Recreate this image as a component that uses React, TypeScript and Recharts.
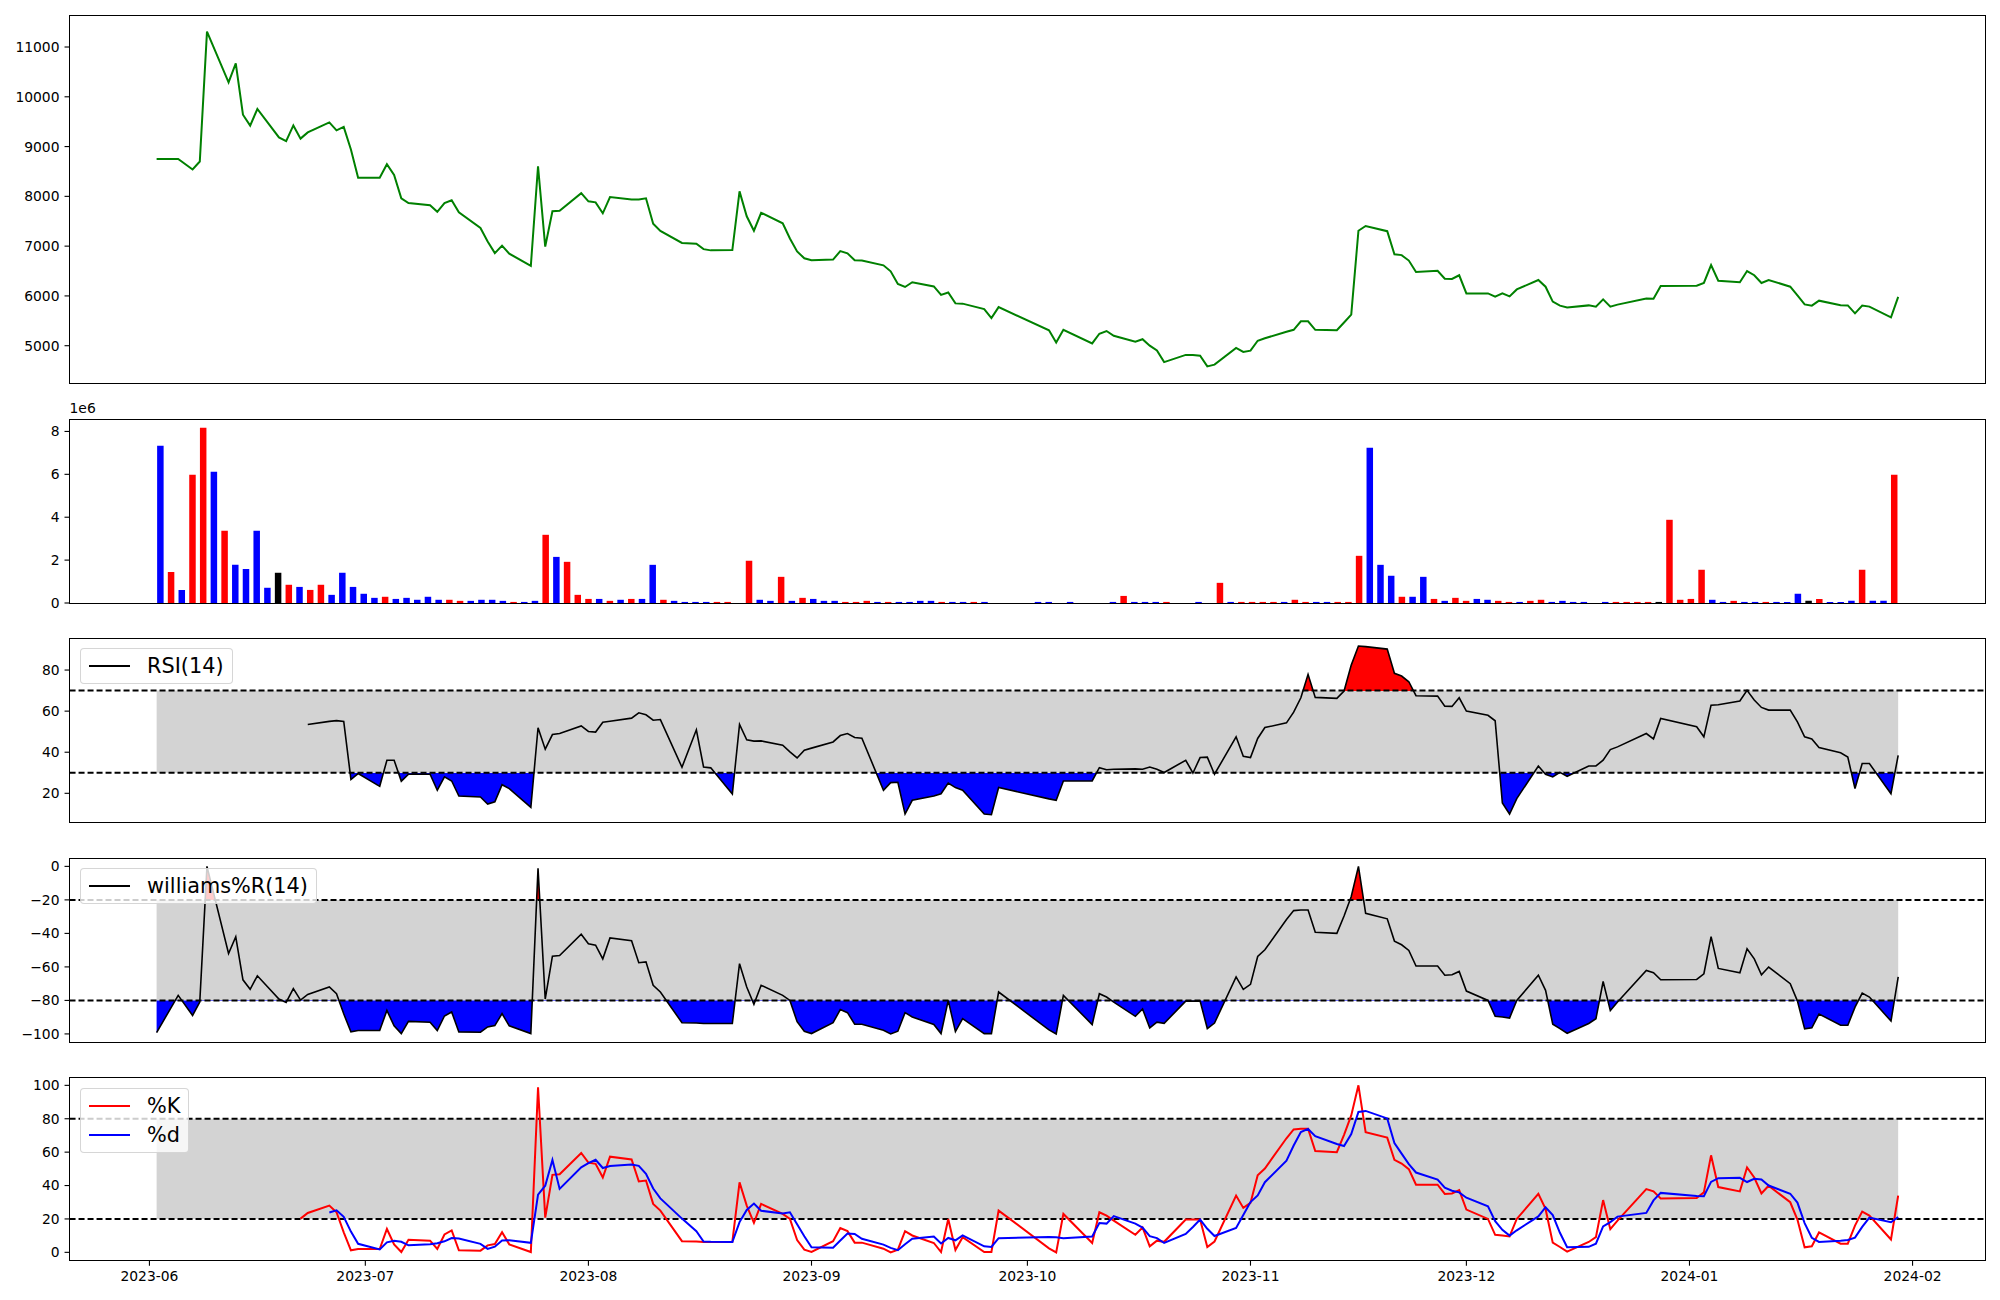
import {
    ComposedChart,
    Line,
    Area,
    Bar,
    Cell,
    XAxis,
    YAxis,
    ReferenceArea,
    ReferenceLine,
} from 'recharts';

// trading days (one bar / point each)
const dates = [
    '2023-06-02', '2023-06-05', '2023-06-07', '2023-06-08', '2023-06-09', '2023-06-12', '2023-06-13', '2023-06-14', '2023-06-15', '2023-06-16',
    '2023-06-19', '2023-06-20', '2023-06-21', '2023-06-22', '2023-06-23', '2023-06-26', '2023-06-27', '2023-06-28', '2023-06-29', '2023-06-30',
    '2023-07-03', '2023-07-04', '2023-07-05', '2023-07-06', '2023-07-07', '2023-07-10', '2023-07-11', '2023-07-12', '2023-07-13', '2023-07-14',
    '2023-07-17', '2023-07-18', '2023-07-19', '2023-07-20', '2023-07-21', '2023-07-24', '2023-07-25', '2023-07-26', '2023-07-27', '2023-07-28',
    '2023-07-31', '2023-08-01', '2023-08-02', '2023-08-03', '2023-08-04', '2023-08-07', '2023-08-08', '2023-08-09', '2023-08-10', '2023-08-11',
    '2023-08-14', '2023-08-16', '2023-08-17', '2023-08-18', '2023-08-21', '2023-08-22', '2023-08-23', '2023-08-24', '2023-08-25', '2023-08-28',
    '2023-08-29', '2023-08-30', '2023-08-31', '2023-09-01', '2023-09-04', '2023-09-05', '2023-09-06', '2023-09-07', '2023-09-08', '2023-09-11',
    '2023-09-12', '2023-09-13', '2023-09-14', '2023-09-15', '2023-09-18', '2023-09-19', '2023-09-20', '2023-09-21', '2023-09-22', '2023-09-25',
    '2023-09-26', '2023-09-27', '2023-10-04', '2023-10-05', '2023-10-06', '2023-10-10', '2023-10-11', '2023-10-12', '2023-10-13', '2023-10-16',
    '2023-10-17', '2023-10-18', '2023-10-19', '2023-10-20', '2023-10-23', '2023-10-24', '2023-10-25', '2023-10-26', '2023-10-27', '2023-10-30',
    '2023-10-31', '2023-11-01', '2023-11-02', '2023-11-03', '2023-11-06', '2023-11-07', '2023-11-08', '2023-11-09', '2023-11-10', '2023-11-13',
    '2023-11-14', '2023-11-15', '2023-11-16', '2023-11-17', '2023-11-20', '2023-11-21', '2023-11-22', '2023-11-23', '2023-11-24', '2023-11-27',
    '2023-11-28', '2023-11-29', '2023-11-30', '2023-12-01', '2023-12-04', '2023-12-05', '2023-12-06', '2023-12-07', '2023-12-08', '2023-12-11',
    '2023-12-12', '2023-12-13', '2023-12-14', '2023-12-15', '2023-12-18', '2023-12-19', '2023-12-20', '2023-12-21', '2023-12-22', '2023-12-26',
    '2023-12-27', '2023-12-28', '2024-01-02', '2024-01-03', '2024-01-04', '2024-01-05', '2024-01-08', '2024-01-09', '2024-01-10', '2024-01-11',
    '2024-01-12', '2024-01-15', '2024-01-16', '2024-01-17', '2024-01-18', '2024-01-19', '2024-01-22', '2024-01-23', '2024-01-24', '2024-01-25',
    '2024-01-26', '2024-01-29', '2024-01-30',
];

const close = [
    8750, 8750, 8540, 8700, 11310, 10290, 10670, 9640, 9420, 9755,
    9185, 9110, 9425, 9160, 9285, 9485, 9325, 9395, 8940, 8375,
    8375, 8645, 8430, 7960, 7865, 7820, 7690, 7865, 7920, 7680,
    7365, 7095, 6860, 7010, 6850, 6605, 8605, 6990, 7700, 7710,
    8065, 7900, 7880, 7660, 7985, 7935, 7935, 7960, 7450, 7305,
    7065, 7050, 6940, 6915, 6920, 8100, 7600, 7310, 7670, 7460,
    7155, 6895, 6755, 6715, 6730, 6900, 6855, 6715, 6710, 6615,
    6495, 6240, 6180, 6275, 6190, 6020, 6070, 5850, 5845, 5735,
    5555, 5775, 5310, 5065, 5320, 5045, 5240, 5295, 5200, 5080,
    5130, 5000, 4905, 4670, 4815, 4815, 4800, 4585, 4620, 4955,
    4875, 4900, 5100, 5150, 5280, 5320, 5490, 5490, 5320, 5310,
    5465, 5625, 7310, 7405, 7300, 6835, 6820, 6710, 6480, 6505,
    6345, 6340, 6415, 6050, 6050, 5985, 6050, 5990, 6130, 6320,
    6185, 5885, 5805, 5770, 5810, 5785, 5930, 5785, 5825, 5950,
    5945, 6200, 6205, 6260, 6620, 6305, 6275, 6500, 6415, 6260,
    6320, 6185, 6010, 5830, 5805, 5905, 5815, 5810, 5650, 5805,
    5785, 5570, 5980,
];

// volume in units of 1e6
const volume = [
    7.33, 1.45, 0.61, 5.98, 8.17, 6.12, 3.37, 1.78, 1.59, 3.37,
    0.71, 1.41, 0.85, 0.75, 0.61, 0.85, 0.38, 1.41, 0.75, 0.43,
    0.24, 0.29, 0.19, 0.24, 0.15, 0.29, 0.15, 0.15, 0.10, 0.10,
    0.15, 0.15, 0.10, 0.05, 0.05, 0.10, 3.18, 2.15, 1.92, 0.38,
    0.19, 0.19, 0.10, 0.15, 0.19, 0.19, 1.78, 0.15, 0.10, 0.05,
    0.05, 0.05, 0.05, 0.05, 0, 1.97, 0.15, 0.10, 1.22, 0.10,
    0.24, 0.19, 0.10, 0.10, 0.05, 0.05, 0.10, 0.05, 0.05, 0.05,
    0.05, 0.10, 0.10, 0.05, 0.05, 0.05, 0.05, 0.05, 0, 0,
    0, 0, 0.05, 0.05, 0, 0.05, 0, 0, 0, 0.05,
    0.33, 0.05, 0.05, 0.05, 0.05, 0, 0, 0.05, 0, 0.94,
    0.05, 0.05, 0.05, 0.05, 0.05, 0.05, 0.15, 0.05, 0.05, 0.05,
    0.05, 0.05, 2.2, 7.24, 1.78, 1.27, 0.29, 0.29, 1.22, 0.19,
    0.10, 0.24, 0.10, 0.19, 0.15, 0.10, 0.05, 0.05, 0.10, 0.15,
    0.05, 0.10, 0.05, 0.05, 0, 0.05, 0.05, 0.05, 0.05, 0.05,
    0.05, 3.88, 0.15, 0.19, 1.55, 0.15, 0.05, 0.10, 0.05, 0.05,
    0.05, 0.05, 0.05, 0.43, 0.10, 0.19, 0.05, 0.05, 0.10, 1.55,
    0.10, 0.10, 5.98,
];

// r = up day, b = down day, k = unchanged
const volColor = (
    'brbrrbrbbb' + 'bkrbrrbbbb' + 'brbbbbbrrb' + 'bbbrbbrbrr' +
    'rbrbrbbrbb' + 'bbrrkrbbrb' + 'rbbbrrrbrb' + 'bbbrbbrbkk' +
    'kkbbkbkkkb' + 'rbbbrkkbkr' + 'brrrrbrrbb' + 'rrrbbbrbbr' +
    'brrbbrrbrr' + 'bbbbkbrrrr' + 'krrrrbbrbb' + 'rbbbkrbbbr' + 'bbr'
).split('');

const rsi = [
    null, null, null, null, null, null, null, null, null, null,
    null, null, null, null, 53.5, 55.0, 55.4, 55.0, 26.7, 29.6,
    23.4, 36.1, 36.1, 25.9, 29.3, 29.3, 21.5, 28.0, 26.0, 18.7,
    18.2, 14.8, 15.9, 24.2, 22.3, 13.2, 51.9, 41.5, 48.6, 49.1,
    52.8, 50.1, 49.8, 54.6, 55.1, 56.6, 59.2, 58.2, 55.6, 55.9,
    32.7, 50.9, 32.8, 32.4, 19.7, 53.5, 46.0, 45.4, 45.5, 43.4,
    40.2, 37.2, 41.0, 42.0, 45.0, 48.1, 49.1, 47.2, 46.8, 21.5,
    25.2, 25.4, 9.9, 16.6, 18.7, 19.8, 25.0, 22.8, 21.5, 9.9,
    9.6, 22.8, 17.3, 16.6, 26.0, 26.0, 32.5, 31.5, 31.7, 31.9,
    31.7, 32.8, 31.7, 30.1, 36.1, 29.9, 37.4, 37.6, 29.3, 47.5,
    38.0, 37.4, 46.7, 52.0, 54.3, 59.5, 66.5, 77.9, 66.7, 66.2,
    69.8, 82.4, 91.7, 91.4, 90.2, 78.4, 77.1, 74.3, 67.5, 67.3,
    62.4, 62.3, 66.5, 60.0, 58.0, 55.3, 15.3, 9.9, 17.4, 33.3,
    29.3, 28.0, 30.2, 28.3, 33.3, 33.3, 36.1, 41.3, 42.6, 49.1,
    46.5, 56.4, 52.4, 47.5, 62.9, 63.1, 64.9, 70.1, 65.4, 61.8,
    60.5, 60.5, 54.8, 47.5, 46.5, 42.3, 39.7, 37.7, 22.3, 34.5,
    34.5, 19.8, 38.5,
];

const willR = [
    -99.2, -77, -89, -81, 0, -52, -42, -67.7, -73.4, -65.3,
    -79.2, -81.2, -73, -79.8, -76.4, -72, -76, -88, -98.8, -98,
    -98, -86, -95.2, -99.8, -92.5, -93, -98, -89.3, -86.9, -98.8,
    -99, -95.8, -95, -87.9, -95.2, -99.8, -1.2, -79.2, -53.6, -53.2,
    -40.5, -46.2, -47, -55.2, -42.7, -44.4, -57.5, -57, -71, -75,
    -93.3, -93.5, -93.8, -93.8, -93.8, -58.1, -72, -82.3, -71, -77,
    -80, -92.7, -98.4, -99.8, -93.3, -85.5, -87.3, -94.2, -94.2, -97.8,
    -100, -98.4, -87.3, -89.9, -94.4, -99.8, -80, -98.6, -90.9, -99.8,
    -99.8, -75, -97.6, -100, -77, -94.4, -76, -78, -81, -89.5,
    -85.1, -96.4, -93, -93.7, -80.4, -80.4, -80.4, -96.8, -93.5, -66,
    -73.4, -70.4, -53.8, -49.8, -31.7, -26.4, -26, -26, -39.3, -40,
    -29.6, -18, 0, -28, -31.3, -44.6, -46.8, -50.2, -59.5, -59.5,
    -65, -64.7, -62.7, -74.4, -80, -89.5, -89.9, -90.5, -80, -65,
    -74, -94.2, -96.8, -99.6, -93.8, -90.9, -68.7, -86.1, -81, -62.1,
    -63.5, -67.7, -67.5, -64.1, -41.9, -60.9, -63.5, -49.2, -55.2, -64.7,
    -60.1, -70, -80.4, -97, -96.4, -88.1, -94.8, -94.8, -84, -75.6,
    -78, -92.3, -66,
];

const stochK = [
    null, null, null, null, null, null, null, null, null, null,
    null, null, null, 20.2, 23.6, 28, 24, 12, 1.2, 2,
    2, 14, 4.8, 0.2, 7.5, 7, 2, 10.7, 13.1, 1.2,
    1, 4.2, 5, 12.1, 4.8, 0.2, 98.8, 20.8, 46.4, 46.8,
    59.5, 53.8, 53, 44.8, 57.3, 55.6, 42.5, 43, 29, 25,
    6.7, 6.5, 6.2, 6.2, 6.2, 41.9, 28, 17.7, 29, 23,
    20, 7.3, 1.6, 0.2, 6.7, 14.5, 12.7, 5.8, 5.8, 2.2,
    0, 1.6, 12.7, 10.1, 5.6, 0.2, 20, 1.4, 9.1, 0.2,
    0.2, 25, 2.4, 0, 23, 5.6, 24, 22, 19, 10.5,
    14.9, 3.6, 7, 6.3, 19.6, 19.6, 19.6, 3.2, 6.5, 34,
    26.6, 29.6, 46.2, 50.2, 68.3, 73.6, 74, 74, 60.7, 60,
    70.4, 82, 100, 72, 68.7, 55.4, 53.2, 49.8, 40.5, 40.5,
    35, 35.3, 37.3, 25.6, 20, 10.5, 10.1, 9.5, 20, 35,
    26, 5.8, 3.2, 0.4, 6.2, 9.1, 31.3, 13.9, 19, 37.9,
    36.5, 32.3, 32.5, 35.9, 58.1, 39.1, 36.5, 50.8, 44.8, 35.3,
    39.9, 30, 19.6, 3, 3.6, 11.9, 5.2, 5.2, 16, 24.4,
    22, 7.7, 34,
];

const stochD = [
    null, null, null, null, null, null, null, null, null, null,
    null, null, null, null, null, 23.9, 25.2, 21.3, 12.4, 5.1,
    1.7, 6.0, 6.9, 6.3, 4.2, 4.9, 5.5, 6.6, 8.6, 8.3,
    5.1, 2.1, 3.4, 7.1, 7.3, 5.7, 34.6, 39.9, 55.3, 38.0,
    50.9, 53.4, 55.4, 50.5, 51.7, 52.6, 51.8, 47.0, 38.2, 32.3,
    20.2, 12.7, 6.5, 6.3, 6.2, 18.1, 25.4, 29.2, 24.9, 23.2,
    24.0, 16.8, 9.6, 3.0, 2.8, 7.1, 11.3, 11.0, 8.1, 4.6,
    2.7, 1.3, 4.8, 8.1, 9.5, 5.3, 8.6, 7.2, 10.2, 3.6,
    3.2, 8.5, 9.2, 9.1, 8.5, 9.5, 17.5, 17.2, 21.7, 17.2,
    14.8, 9.7, 8.5, 5.6, 11.0, 15.2, 19.6, 14.1, 9.8, 14.6,
    22.4, 30.1, 34.1, 42.0, 54.9, 64.0, 72.0, 73.9, 69.6, 64.9,
    63.7, 70.8, 84.1, 84.7, 80.2, 65.4, 59.1, 52.8, 47.8, 43.6,
    38.7, 36.9, 35.9, 32.7, 27.6, 18.7, 13.5, 10.0, 13.2, 21.5,
    27.0, 22.3, 11.7, 3.1, 3.3, 5.2, 15.5, 18.1, 21.4, 23.6,
    31.1, 35.6, 33.8, 33.6, 42.2, 44.4, 44.6, 42.1, 44.0, 43.6,
    40.0, 35.1, 29.8, 17.5, 8.7, 6.2, 6.9, 7.4, 8.8, 15.2,
    20.8, 18.0, 21.2,
];

const monthTicks = [
    '2023-06-01', '2023-07-01', '2023-08-01', '2023-09-01', '2023-10-01',
    '2023-11-01', '2023-12-01', '2024-01-01', '2024-02-01',
];

const priceTicks = [5000, 6000, 7000, 8000, 9000, 10000, 11000];
const volTicks = [0, 2, 4, 6, 8];
const rsiTicks = [20, 40, 60, 80];
const wrTicks = [-100, -80, -60, -40, -20, 0];
const stochTicks = [0, 20, 40, 60, 80, 100];

const FONT = '"DejaVu Sans", sans-serif';
const TICK = { fontSize: 13.9, fill: '#000', fontFamily: FONT };
const PLOT_X = 69.5;
const PLOT_W = 1915.8;
const TOP_PAD = 10;
const BOT_PAD = 12;
const COLORS: Record<string, string> = { r: '#ff0000', b: '#0000ff', k: '#000000' };

const rows = dates.map((d, i) => ({
    t: Date.parse(d),
    idx: i,
    close: close[i],
    vol: volume[i],
    rsi: rsi[i],
    wr: willR[i],
    k: stochK[i],
    d: stochD[i],
}));

const tStart = rows[0].t;
const tEnd = rows[rows.length - 1].t;
const xPad = (tEnd - tStart) * 0.05;
const xDomain = [tStart - xPad, tEnd + xPad];
const monthTs = monthTicks.map(m => Date.parse(m));

const fmtMonth = (t: number) => {
    const d = new Date(t);
    return `${d.getUTCFullYear()}-${String(d.getUTCMonth() + 1).padStart(2, '0')}`;
};
const fmtSigned = (v: number) => (v < 0 ? '\u2212' + Math.abs(v) : String(v));

const PANELS = {
    price: { top: 15.3, h: 368.7 },
    vol: { top: 419.3, h: 184 },
    rsi: { top: 638, h: 184.7 },
    wr: { top: 858, h: 184.3 },
    stoch: { top: 1077.3, h: 183.7 },
};

// hard-edged gradient: red above `hi`, clear between, blue below `lo`
const bandGradient = (id: string, dom: number[], hi: number, lo: number, h: number) => {
    const span = dom[1] - dom[0];
    const fHi = (dom[1] - hi) / span;
    const fLo = (dom[1] - lo) / span;
    return (
        <defs>
            <linearGradient id={id} gradientUnits="userSpaceOnUse" x1="0" y1={TOP_PAD} x2="0" y2={TOP_PAD + h}>
                <stop offset={0} stopColor="#ff0000" stopOpacity={1} />
                <stop offset={fHi} stopColor="#ff0000" stopOpacity={1} />
                <stop offset={fHi} stopColor="#ffffff" stopOpacity={0} />
                <stop offset={fLo} stopColor="#ffffff" stopOpacity={0} />
                <stop offset={fLo} stopColor="#0000ff" stopOpacity={1} />
                <stop offset={1} stopColor="#0000ff" stopOpacity={1} />
            </linearGradient>
        </defs>
    );
};

const Frame = ({ top, h }: { top: number; h: number }) => (
    <div
        style={{
            position: 'absolute',
            left: PLOT_X - 0.5,
            top: top - 0.5,
            width: PLOT_W + 1,
            height: h + 1,
            border: '1px solid #000',
            boxSizing: 'border-box',
            pointerEvents: 'none',
        }}
    />
);

const LegendBox = ({ top, items }: { top: number; items: { label: string; color: string }[] }) => (
    <div
        style={{
            position: 'absolute',
            left: PLOT_X + 10.4,
            top: top + 10.4,
            background: 'rgba(255,255,255,0.8)',
            border: '1px solid rgba(204,204,204,0.8)',
            borderRadius: 4,
            padding: '7px 8px',
            fontFamily: FONT,
            fontSize: 20.8,
            color: '#000',
            lineHeight: '20px',
        }}
    >
        {items.map((it, i) => (
            <div key={it.label} style={{ display: 'flex', alignItems: 'center', height: 20, marginTop: i ? 9 : 0 }}>
                <div style={{ width: 41.6, height: 2, background: it.color, marginRight: 16.6 }} />
                <span>{it.label}</span>
            </div>
        ))}
    </div>
);

// outer box for a panel: plot area plus room above and below for tick labels
const chartBox = (top: number, h: number, bottom: number) => ({
    position: 'absolute' as const,
    left: 0,
    top: top - TOP_PAD,
    width: 2000,
    height: h + TOP_PAD + bottom,
});

const marginHidden = { top: TOP_PAD, right: 2000 - PLOT_X - PLOT_W, bottom: BOT_PAD, left: 0 };
const marginAxis = { top: TOP_PAD, right: 2000 - PLOT_X - PLOT_W, bottom: 0, left: 0 };

const yAxisProps = {
    width: PLOT_X,
    tick: TICK,
    tickSize: 5,
    tickMargin: 5,
    axisLine: false,
    tickLine: { stroke: '#000', strokeWidth: 1.1 },
    allowDataOverflow: true,
    interval: 0 as const,
};

const dashed = { stroke: '#000', strokeDasharray: '6 3', strokeWidth: 2 };

const PRICE_DOM = [4237, 11643];
const VOL_DOM = [0, 8.58];
const RSI_DOM = [5.7, 95.6];
const WR_DOM = [-105, 5];
const STOCH_DOM = [-5, 105];

export default function App() {
    const { price, vol, rsi: pr, wr, stoch } = PANELS;
    return (
        <div style={{ position: 'absolute', left: 0, top: 0, width: 2000, height: 1300, background: '#fff' }}>
            {/* price */}
            <div style={chartBox(price.top, price.h, BOT_PAD)}>
                <ComposedChart width={2000} height={price.h + TOP_PAD + BOT_PAD} data={rows} margin={marginHidden}>
                    <XAxis type="number" dataKey="t" domain={xDomain} hide allowDataOverflow />
                    <YAxis {...yAxisProps} domain={PRICE_DOM} ticks={priceTicks} />
                    <Line dataKey="close" stroke="#008000" strokeWidth={2} dot={false} activeDot={false} isAnimationActive={false} />
                </ComposedChart>
            </div>
            <Frame top={price.top} h={price.h} />

            {/* volume */}
            <div style={chartBox(vol.top, vol.h, BOT_PAD)}>
                <ComposedChart width={2000} height={vol.h + TOP_PAD + BOT_PAD} data={rows} margin={marginHidden}>
                    <XAxis type="number" dataKey="idx" domain={[-8.5, 170.5]} hide allowDataOverflow />
                    <YAxis {...yAxisProps} domain={VOL_DOM} ticks={volTicks} />
                    <Bar dataKey="vol" barSize={6.5} isAnimationActive={false}>
                        {rows.map((r, i) => (
                            <Cell key={r.idx} fill={COLORS[volColor[i]]} />
                        ))}
                    </Bar>
                </ComposedChart>
            </div>
            <Frame top={vol.top} h={vol.h} />
            <span style={{ position: 'absolute', left: PLOT_X, top: vol.top - 18, fontFamily: FONT, fontSize: 13.9, lineHeight: '14px' }}>
                1e6
            </span>

            {/* RSI */}
            <div style={chartBox(pr.top, pr.h, BOT_PAD)}>
                <ComposedChart width={2000} height={pr.h + TOP_PAD + BOT_PAD} data={rows} margin={marginHidden}>
                    {bandGradient('rsiFill', RSI_DOM, 70, 30, pr.h)}
                    <XAxis type="number" dataKey="t" domain={xDomain} hide allowDataOverflow />
                    <YAxis {...yAxisProps} domain={RSI_DOM} ticks={rsiTicks} />
                    <ReferenceArea x1={tStart} x2={tEnd} y1={30} y2={70} fill="#d3d3d3" fillOpacity={1} stroke="none" />
                    <Area dataKey="rsi" baseValue={30} stroke="none" fill="url(#rsiFill)" fillOpacity={1} dot={false} activeDot={false} isAnimationActive={false} />
                    <ReferenceLine y={70} {...dashed} />
                    <ReferenceLine y={30} {...dashed} />
                    <Line dataKey="rsi" stroke="#000" strokeWidth={1.6} dot={false} activeDot={false} isAnimationActive={false} />
                </ComposedChart>
            </div>
            <Frame top={pr.top} h={pr.h} />
            <LegendBox top={pr.top} items={[{ label: 'RSI(14)', color: '#000' }]} />

            {/* Williams %R */}
            <div style={chartBox(wr.top, wr.h, BOT_PAD)}>
                <ComposedChart width={2000} height={wr.h + TOP_PAD + BOT_PAD} data={rows} margin={marginHidden}>
                    {bandGradient('wrFill', WR_DOM, -20, -80, wr.h)}
                    <XAxis type="number" dataKey="t" domain={xDomain} hide allowDataOverflow />
                    <YAxis {...yAxisProps} domain={WR_DOM} ticks={wrTicks} tickFormatter={fmtSigned} />
                    <ReferenceArea x1={tStart} x2={tEnd} y1={-80} y2={-20} fill="#d3d3d3" fillOpacity={1} stroke="none" />
                    <Area dataKey="wr" baseValue={-80} stroke="none" fill="url(#wrFill)" fillOpacity={1} dot={false} activeDot={false} isAnimationActive={false} />
                    <ReferenceLine y={-20} {...dashed} />
                    <ReferenceLine y={-80} {...dashed} />
                    <Line dataKey="wr" stroke="#000" strokeWidth={1.6} dot={false} activeDot={false} isAnimationActive={false} />
                </ComposedChart>
            </div>
            <Frame top={wr.top} h={wr.h} />
            <LegendBox top={wr.top} items={[{ label: 'williams%R(14)', color: '#000' }]} />

            {/* stochastic */}
            <div style={chartBox(stoch.top, stoch.h, 40)}>
                <ComposedChart width={2000} height={stoch.h + TOP_PAD + 40} data={rows} margin={marginAxis}>
                    <XAxis
                        type="number"
                        dataKey="t"
                        domain={xDomain}
                        allowDataOverflow
                        ticks={monthTs}
                        interval={0}
                        tickFormatter={fmtMonth}
                        height={40}
                        tick={TICK}
                        tickSize={5}
                        tickMargin={5}
                        axisLine={false}
                        tickLine={{ stroke: '#000', strokeWidth: 1.1 }}
                    />
                    <YAxis {...yAxisProps} domain={STOCH_DOM} ticks={stochTicks} />
                    <ReferenceArea x1={tStart} x2={tEnd} y1={20} y2={80} fill="#d3d3d3" fillOpacity={1} stroke="none" />
                    <ReferenceLine y={80} {...dashed} />
                    <ReferenceLine y={20} {...dashed} />
                    <Line dataKey="k" stroke="#ff0000" strokeWidth={2} dot={false} activeDot={false} isAnimationActive={false} />
                    <Line dataKey="d" stroke="#0000ff" strokeWidth={2} dot={false} activeDot={false} isAnimationActive={false} />
                </ComposedChart>
            </div>
            <Frame top={stoch.top} h={stoch.h} />
            <LegendBox
                top={stoch.top}
                items={[
                    { label: '%K', color: '#ff0000' },
                    { label: '%d', color: '#0000ff' },
                ]}
            />
        </div>
    );
}
